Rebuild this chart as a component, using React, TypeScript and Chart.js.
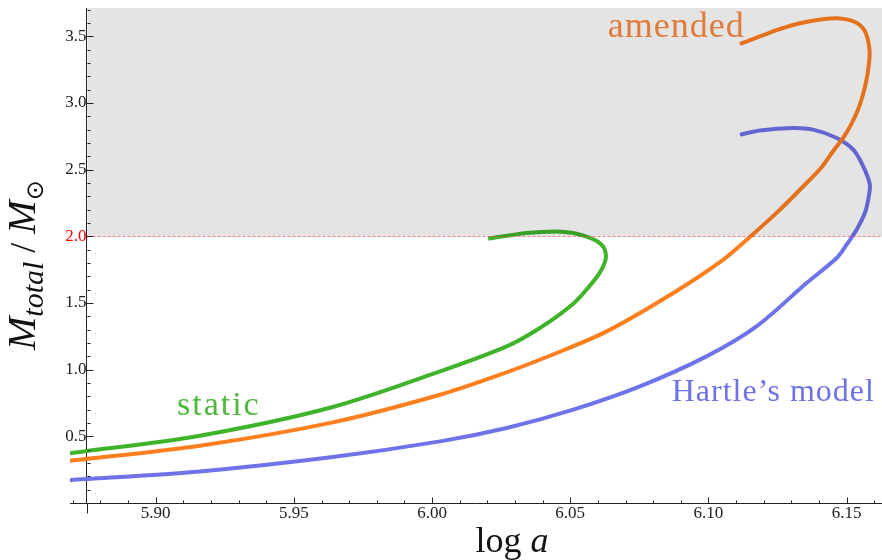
import React, { useEffect, useRef } from 'react';
import { Chart, registerables } from 'chart.js';

Chart.register(...registerables);

// ---- axes ----
const X_TICKS = [5.9, 5.95, 6.0, 6.05, 6.1, 6.15];
const Y_TICKS = [0.5, 1.0, 1.5, 2.0, 2.5, 3.0, 3.5];
const X_MIN = 5.869;
const X_MAX = 6.1628;
const Y_MIN = 0;
const Y_MAX = 3.7125;
const AXIS_ORIGIN_X = 5.875;
const MASS_LIMIT = 2.0;

// ---- series: amended ----
const AMENDED_LOGA = [5.869, 5.916, 5.9641, 6.0029, 6.0246, 6.0451, 6.0632, 6.0873, 6.1054, 6.115, 6.1259, 6.1367, 6.1411, 6.1447, 6.1488, 6.1516, 6.1541, 6.1559, 6.1572, 6.1579, 6.1583, 6.1582, 6.1575, 6.1563, 6.1541, 6.1512, 6.1476, 6.1428, 6.1367, 6.1306, 6.1247, 6.1179, 6.1114];
const AMENDED_MASS = [0.317, 0.43, 0.605, 0.812, 0.962, 1.125, 1.287, 1.575, 1.825, 1.995, 2.2, 2.425, 2.5223, 2.6273, 2.74, 2.8373, 2.95, 3.0623, 3.175, 3.265, 3.3473, 3.415, 3.49, 3.55, 3.595, 3.621, 3.6345, 3.632, 3.6135, 3.585, 3.546, 3.4935, 3.4425];

// ---- series: Hartle's model ----
const HARTLE_LOGA = [5.869, 5.916, 5.9641, 6.0029, 6.027, 6.0511, 6.0752, 6.0993, 6.1174, 6.1355, 6.1464, 6.15, 6.1536, 6.1566, 6.1578, 6.1584, 6.156, 6.1524, 6.1464, 6.1379, 6.1307, 6.1186, 6.1114];
const HARTLE_MASS = [0.171, 0.237, 0.345, 0.462, 0.5625, 0.7, 0.8745, 1.0995, 1.3245, 1.65, 1.8375, 1.9373, 2.0498, 2.175, 2.2748, 2.3873, 2.5245, 2.6498, 2.7375, 2.8, 2.8125, 2.7945, 2.7625];

// ---- series: static ----
const STATIC_LOGA = [5.869, 5.916, 5.9641, 6.0029, 6.027, 6.039, 6.0511, 6.0571, 6.0607, 6.0626, 6.0629, 6.0622, 6.06, 6.0559, 6.0511, 6.0451, 6.0342, 6.0203];
const STATIC_MASS = [0.3735, 0.505, 0.72, 0.987, 1.1745, 1.3125, 1.4948, 1.63, 1.7273, 1.8098, 1.8623, 1.9148, 1.9598, 1.9973, 2.025, 2.037, 2.025, 1.9823];

// ---- curve labels ----
const LABEL_TEXTS = ['amended', 'static', 'Hartle\u2019s model'];
const LABEL_LOGA = [6.0636, 5.9077, 6.0867];
const LABEL_MASS = [3.497, 0.662, 0.762];
const LABEL_COLORS = ['#fb8a42', '#4cb83c', '#6e72e6'];
const LABEL_SIZES = [36, 34, 32];
const LABEL_SPACING = [1, 2, 1];

const SERIF = "'Liberation Serif', 'Times New Roman', serif";

const toPoints = (xs: number[], ys: number[]) => xs.map((x, i) => ({ x, y: ys[i] }));

const decorPlugin = {
  id: 'decor',
  afterDatasetsDraw(chart: any) {
    const { ctx, chartArea } = chart;
    const xs = chart.scales.x;
    const ys = chart.scales.y;
    ctx.save();
    // curve labels
    ctx.textBaseline = 'alphabetic';
    ctx.textAlign = 'left';
    LABEL_TEXTS.forEach((t, i) => {
      ctx.font = `${LABEL_SIZES[i]}px ${SERIF}`;
      try { (ctx as any).letterSpacing = `${LABEL_SPACING[i]}px`; } catch (e) {}
      ctx.fillStyle = LABEL_COLORS[i];
      ctx.fillText(t, xs.getPixelForValue(LABEL_LOGA[i]), ys.getPixelForValue(LABEL_MASS[i]));
    });
    try { (ctx as any).letterSpacing = '0px'; } catch (e) {}
    // shaded region above mass limit
    const left = xs.getPixelForValue(AXIS_ORIGIN_X) + 1;
    const limitY = ys.getPixelForValue(MASS_LIMIT);
    ctx.fillStyle = 'rgba(0,0,0,0.105)';
    ctx.fillRect(left, chartArea.top, chartArea.right - left, limitY - chartArea.top);
    // dashed limit line
    ctx.strokeStyle = 'rgba(235,70,70,0.65)';
    ctx.lineWidth = 1;
    ctx.setLineDash([3, 2]);
    ctx.beginPath();
    ctx.moveTo(left, Math.round(limitY) + 0.5);
    ctx.lineTo(chartArea.right, Math.round(limitY) + 0.5);
    ctx.stroke();
    ctx.restore();
  },
  afterDraw(chart: any) {
    const { ctx, chartArea } = chart;
    const xs = chart.scales.x;
    const ys = chart.scales.y;
    const ax = Math.round(xs.getPixelForValue(AXIS_ORIGIN_X)) + 0.5;
    const ay = Math.round(ys.getPixelForValue(0)) + 0.5;
    ctx.save();
    ctx.strokeStyle = '#222';
    ctx.lineWidth = 1;
    ctx.beginPath();
    // y ticks (inward)
    for (let i = 1; i <= 37; i++) {
      const py = Math.round(ys.getPixelForValue(i / 10)) + 0.5;
      const len = i % 5 === 0 ? 6 : 3;
      ctx.moveTo(ax - (i % 5 === 0 ? 1 : 0), py);
      ctx.lineTo(ax + len, py);
    }
    // x ticks (inward)
    for (let i = 587; i <= 616; i++) {
      const px = Math.round(xs.getPixelForValue(i / 100)) + 0.5;
      const len = i % 5 === 0 ? 6 : 3;
      ctx.moveTo(px, ay);
      ctx.lineTo(px, ay - len);
    }
    // y axis extension below x axis
    ctx.moveTo(ax, ay);
    ctx.lineTo(ax, ay + 10);
    ctx.stroke();

    // x axis title: log a
    ctx.fillStyle = '#111';
    ctx.textBaseline = 'alphabetic';
    ctx.textAlign = 'left';
    const baseY = chartArea.bottom + 49;
    ctx.font = `36px ${SERIF}`;
    const cx = (chartArea.left + chartArea.right) / 2 + 36;
    const w1 = ctx.measureText('log ').width;
    ctx.font = `italic 36px ${SERIF}`;
    const w2 = ctx.measureText('a').width;
    const sx = cx - (w1 + w2) / 2;
    ctx.font = `36px ${SERIF}`;
    ctx.fillText('log ', sx, baseY);
    ctx.font = `italic 36px ${SERIF}`;
    ctx.fillText('a', sx + w1, baseY);

    // y axis title: M_total / M_sun (rotated)
    ctx.translate(35, chartArea.top + 342);
    ctx.rotate(-Math.PI / 2);
    const parts = [
      { t: 'M', f: `italic 40px ${SERIF}`, dy: 0 },
      { t: 'total', f: `italic 30px ${SERIF}`, dy: 8 },
      { t: ' / ', f: `36px ${SERIF}`, dy: 0 },
      { t: 'M', f: `italic 40px ${SERIF}`, dy: 0 },
      { t: '\u2299', f: `24px 'DejaVu Sans', sans-serif`, dy: 8 },
    ];
    let px = 0;
    for (const p of parts) {
      ctx.font = p.f;
      ctx.fillText(p.t, px, p.dy);
      px += ctx.measureText(p.t).width;
    }
    ctx.restore();
  },
};

export default function App() {
  const ref = useRef<HTMLCanvasElement>(null);
  useEffect(() => {
    document.body.style.margin = '0';
    const canvas = ref.current!;
    const lineDs = (label: string, xs: number[], ys: number[], color: string) => ({
      label,
      data: toPoints(xs, ys),
      borderColor: color,
      backgroundColor: color,
      borderWidth: 4,
      showLine: true,
      pointRadius: 0,
      tension: 0.3,
    });
    const chart = new Chart(canvas, {
      type: 'scatter',
      data: {
        datasets: [
          lineDs('amended', AMENDED_LOGA, AMENDED_MASS, '#ff7f1f'),
          lineDs('static', STATIC_LOGA, STATIC_MASS, '#3fb42a'),
          lineDs("Hartle's model", HARTLE_LOGA, HARTLE_MASS, '#6f73ea'),
        ],
      },
      options: {
        responsive: false,
        animation: false,
        devicePixelRatio: 1,
        layout: { padding: { left: 70, top: 20, right: 0, bottom: 57 } },
        plugins: { legend: { display: false }, tooltip: { enabled: false } },
        scales: {
          x: {
            type: 'linear',
            position: { y: 0 } as any,
            min: X_MIN,
            max: X_MAX,
            afterBuildTicks: (scale: any) => {
              scale.ticks = X_TICKS.map((value) => ({ value }));
            },
            ticks: {
              autoSkip: false,
              maxRotation: 0,
              padding: 0,
              color: '#222',
              font: { family: SERIF, size: 17 },
              callback: (v: any) => Number(v).toFixed(2),
            },
            grid: { display: false, drawTicks: false },
            border: { display: true, color: '#222', width: 1 },
          },
          y: {
            type: 'linear',
            position: { x: AXIS_ORIGIN_X } as any,
            min: Y_MIN,
            max: Y_MAX,
            afterBuildTicks: (scale: any) => {
              scale.ticks = Y_TICKS.map((value) => ({ value }));
            },
            ticks: {
              autoSkip: false,
              padding: 6,
              color: (c: any) => (c.tick && c.tick.value === MASS_LIMIT ? '#ff0000' : '#222'),
              font: { family: SERIF, size: 17 },
              callback: (v: any) => Number(v).toFixed(1),
            },
            grid: { display: false, drawTicks: false },
            border: { display: true, color: '#222', width: 1 },
          },
        },
      },
      plugins: [decorPlugin],
    } as any);
    return () => chart.destroy();
  }, []);
  return (
    <div style={{ width: 882, height: 560, overflow: 'hidden' }}>
      <canvas
        ref={ref}
        width={882}
        height={572}
        style={{ display: 'block', position: 'relative', top: -12 }}
      />
    </div>
  );
}
